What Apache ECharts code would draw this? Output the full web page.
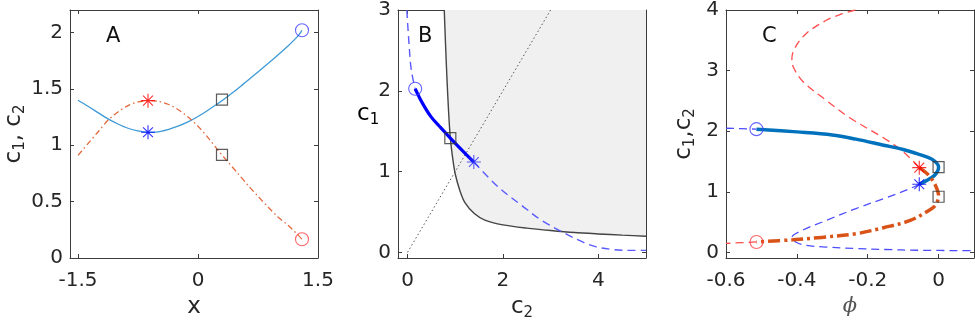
<!DOCTYPE html>
<html>
<head>
<meta charset="utf-8">
<script src="https://cdn.jsdelivr.net/npm/echarts@6/dist/echarts.min.js"></script>
<style>
  html, body { margin: 0; padding: 0; background: #fff; }
  #chart { width: 975px; height: 328px; }
</style>
</head>
<body>
<div id="chart"></div>
<script>
// ---- panel A : c1, c2 against x ----
const aTicksX = [-1.5, 0, 1.5]
const aTicksY = [0, 0.5, 1, 1.5, 2]
const aX = [-1.5, -1.375, -1.25, -1.125, -1.0, -0.875, -0.75, -0.625, -0.5, -0.375, -0.25, -0.125,
  0, 0.125, 0.25, 0.375, 0.5, 0.625, 0.75, 0.875, 1.0, 1.125, 1.25, 1.30]
const aC1 = [1.399, 1.346, 1.290, 1.234, 1.189, 1.151, 1.127, 1.115, 1.118, 1.139, 1.169, 1.207,
  1.255, 1.311, 1.370, 1.435, 1.503, 1.577, 1.651, 1.725, 1.801, 1.880, 1.970, 2.020]
const aC2 = [0.911, 1.015, 1.118, 1.222, 1.296, 1.352, 1.384, 1.396, 1.390, 1.364, 1.317, 1.251,
  1.169, 1.068, 0.956, 0.852, 0.749, 0.645, 0.547, 0.453, 0.364, 0.290, 0.205, 0.166]
const aStarC1 = [[-0.625, 1.115]]
const aStarC2 = [[-0.625, 1.396]]
const aSquares = [[0.3, 1.405], [0.3, 0.914]]
const aCircleC1 = [[1.30, 2.020]]
const aCircleC2 = [[1.30, 0.166]]

// ---- panel B : c1 against c2 ----
const bTicksX = [0, 2, 4]
const bTicksY = [0, 1, 2, 3]
const bDashTop = [[-0.015, 3.0], [0.03, 2.59], [0.078, 2.26], [0.16, 2.025]]
const bSolid = [[0.16, 2.025], [0.3, 1.86], [0.49, 1.68], [0.7, 1.54], [0.897, 1.415], [1.15, 1.26], [1.39, 1.118]]
const bDashLow = [[1.39, 1.118], [1.9, 0.81], [2.385, 0.585], [2.8, 0.40], [3.3, 0.235], [3.7, 0.12],
  [3.94, 0.07], [4.3, 0.035], [4.6, 0.025], [5.0, 0.025]]
const bBoundary = [[0.77, 3.0], [0.795, 2.6], [0.825, 2.17], [0.86, 1.75], [0.897, 1.415], [0.95, 1.15],
  [1.0, 0.97], [1.1, 0.76], [1.2, 0.62], [1.4, 0.48], [1.62, 0.40], [2.0, 0.34], [2.5, 0.30],
  [3.0, 0.27], [3.5, 0.245], [4.0, 0.228], [4.5, 0.213], [5.0, 0.20]]
const bDiagonal = [[0, 0], [3, 3]]
const bCircle = [[0.16, 2.025]]
const bSquare = [[0.897, 1.415]]
const bStar = [[1.39, 1.118]]

// ---- panel C : c1, c2 against phi ----
const cTicksX = [-0.6, -0.4, -0.2, 0]
const cTicksY = [0, 1, 2, 3, 4]
const cBlueDashTop = [[-0.6, 2.05], [-0.514, 2.035]]
const cBlueSolid = [[-0.514, 2.035], [-0.4, 1.99], [-0.3, 1.94], [-0.233, 1.87], [-0.155, 1.77],
  [-0.1, 1.70], [-0.061, 1.63], [-0.03, 1.57], [-0.014, 1.52], [-0.002, 1.45], [0, 1.40],
  [-0.004, 1.33], [-0.012, 1.27], [-0.033, 1.19], [-0.0545, 1.127]]
const cBlueDashLow = [[-0.0545, 1.127], [-0.08, 1.056], [-0.15, 0.90], [-0.233, 0.726], [-0.317, 0.53],
  [-0.383, 0.37], [-0.414, 0.25], [-0.402, 0.17], [-0.374, 0.12], [-0.317, 0.09], [-0.233, 0.066],
  [-0.15, 0.05], [-0.061, 0.038], [0.1, 0.03]]
const cRedDashTop = [[-0.235, 4.0], [-0.28, 3.92], [-0.317, 3.83], [-0.374, 3.61], [-0.405, 3.38],
  [-0.414, 3.2], [-0.41, 3.06], [-0.383, 2.82], [-0.317, 2.51], [-0.25, 2.22], [-0.155, 1.89],
  [-0.099, 1.66], [-0.0545, 1.40]]
const cRedSolid = [[-0.0545, 1.40], [-0.028, 1.275], [-0.009, 1.11], [0, 0.93], [-0.009, 0.78],
  [-0.023, 0.71], [-0.08, 0.53], [-0.155, 0.41], [-0.233, 0.31], [-0.33, 0.25], [-0.412, 0.21], [-0.514, 0.175]]
const cRedDashLow = [[-0.514, 0.175], [-0.6, 0.15]]
const cCircleC1 = [[-0.514, 2.035]]
const cCircleC2 = [[-0.514, 0.175]]
const cStarC1 = [[-0.0545, 1.127]]
const cStarC2 = [[-0.0545, 1.40]]
const cSquares = [[0, 1.41], [0, 0.92]]

const FONT = '"DejaVu Sans", Arial, sans-serif'
const AXIS_COLOR = '#3c3c3c'
const TEXT_COLOR = '#262626'
const STAR = 'path://M0,4L8,4M4,0L4,8M1.2,1.2L6.8,6.8M1.2,6.8L6.8,1.2'

const SUB_RICH = {
  n: { fontSize: 23, fontFamily: FONT, color: TEXT_COLOR },
  s: { fontSize: 15, fontFamily: FONT, color: TEXT_COLOR, padding: [12, 0, 0, 0] },
}

function axis(grid, pos, min, max, ticks, labels, extra) {
  const horizontal = pos === 'bottom' || pos === 'top'
  return Object.assign({
    type: 'value',
    gridIndex: grid,
    position: pos,
    min: min,
    max: max,
    axisLine: { show: true, onZero: false, lineStyle: { color: AXIS_COLOR, width: 1 } },
    axisTick: { show: true, inside: true, length: 4, customValues: ticks, lineStyle: { color: AXIS_COLOR } },
    axisLabel: {
      show: labels, customValues: ticks, color: TEXT_COLOR, fontSize: 20, fontFamily: FONT,
      margin: horizontal ? 13 : 7,
    },
    splitLine: { show: false },
  }, extra || {})
}

function curve(p, data, color, width, type, extra) {
  return Object.assign({
    type: 'line',
    xAxisIndex: p * 2,
    yAxisIndex: p * 2,
    data: data,
    symbol: 'none',
    smooth: 0.35,
    lineStyle: { color: color, width: width, type: type },
    silent: true,
    z: 3,
  }, extra || {})
}

function marks(p, data, symbol, size, color, width) {
  return {
    type: 'scatter',
    xAxisIndex: p * 2,
    yAxisIndex: p * 2,
    data: data,
    symbol: symbol,
    symbolSize: size,
    itemStyle: { color: 'transparent', borderColor: color, borderWidth: width || 1.1 },
    silent: true,
    z: 5,
  }
}

const zip = (xs, ys) => xs.map((x, i) => [x, ys[i]])

const grids = [
  { left: 70, top: 10, width: 248, height: 248 },
  { left: 398, top: 10, width: 248, height: 248 },
  { left: 726, top: 10, width: 248, height: 248 },
].map(g => Object.assign({ outerBoundsMode: 'none', containLabel: false }, g))

const xAxes = [
  axis(0, 'bottom', -1.6, 1.5, aTicksX, true, {
    name: 'x', nameLocation: 'middle', nameGap: 34,
    nameTextStyle: { fontSize: 23, fontFamily: FONT, color: TEXT_COLOR },
  }),
  axis(0, 'top', -1.6, 1.5, aTicksX, false),
  axis(1, 'bottom', -0.2, 5, bTicksX, true, {
    name: '{n|c}{s|2}', nameLocation: 'middle', nameGap: 34,
    nameTextStyle: { rich: SUB_RICH },
  }),
  axis(1, 'top', -0.2, 5, bTicksX, false),
  axis(2, 'bottom', -0.6, 0.1, cTicksX, true, {
    name: '\u03d5', nameLocation: 'middle', nameGap: 36,
    nameTextStyle: { fontSize: 21, fontFamily: '"DejaVu Serif", serif', fontStyle: 'italic', color: '#555' },
  }),
  axis(2, 'top', -0.6, 0.1, cTicksX, false),
]

const yAxes = [
  axis(0, 'left', 0, 2.2, aTicksY, true, {
    name: '{n|c}{s|1}{n|, c}{s|2}', nameLocation: 'middle', nameGap: 42,
    nameTextStyle: { rich: SUB_RICH },
  }),
  axis(0, 'right', 0, 2.2, aTicksY, false),
  axis(1, 'left', -0.07, 3, bTicksY, true),
  axis(1, 'right', -0.07, 3, bTicksY, false),
  axis(2, 'left', -0.09, 4, cTicksY, true, {
    name: '{n|c}{s|1}{n|,c}{s|2}', nameLocation: 'middle', nameGap: 28,
    nameTextStyle: { rich: SUB_RICH },
  }),
  axis(2, 'right', -0.09, 4, cTicksY, false),
]

const series = [
  // A
  curve(0, zip(aX, aC1), '#3d9ad6', 1.3, 'solid', { smooth: 0.3 }),
  curve(0, zip(aX, aC2), '#e2693d', 1.3, [6, 3, 1.5, 3], { smooth: 0.3 }),
  marks(0, aStarC1, STAR, 14, '#0000ff', 1.1),
  marks(0, aStarC2, STAR, 14, '#ff0000', 1.1),
  marks(0, aSquares, 'rect', 11, '#333', 1.2),
  marks(0, aCircleC1, 'circle', 13, '#4040ff', 1.1),
  marks(0, aCircleC2, 'circle', 13, '#ff4040', 1.1),
  // B
  curve(1, bBoundary, '#444', 1.4, 'solid', {
    areaStyle: { color: '#f0f0f0', opacity: 1, origin: 'end' }, z: 1, smooth: 0.25,
  }),
  curve(1, bDiagonal, '#555', 1, [1.5, 2.5], { smooth: false, z: 2 }),
  curve(1, bDashTop, '#5a5aff', 1.4, [8, 5]),
  curve(1, bDashLow, '#5a5aff', 1.4, [8, 5]),
  curve(1, bSolid, '#0000ff', 3.2, 'solid'),
  marks(1, bCircle, 'circle', 13, '#4040ff', 1.1),
  marks(1, bSquare, 'rect', 11, '#333', 1.2),
  marks(1, bStar, STAR, 14, '#3030ff', 1.1),
  // C
  curve(2, cRedDashTop, '#ff4d4d', 1.3, [8, 5]),
  curve(2, cRedDashLow, '#ff4d4d', 1.3, [8, 5]),
  curve(2, cBlueDashTop, '#4d4dff', 1.3, [8, 5]),
  curve(2, cBlueDashLow, '#4d4dff', 1.3, [8, 5]),
  curve(2, cBlueSolid, '#0072bd', 3.5, 'solid', { z: 4 }),
  curve(2, cRedSolid, '#d95319', 3.5, [12, 4, 3, 4], { z: 4 }),
  marks(2, cCircleC1, 'circle', 13, '#4040ff', 1.1),
  marks(2, cCircleC2, 'circle', 13, '#ff4040', 1.1),
  marks(2, cStarC2, STAR, 14, '#ff0000', 1.1),
  marks(2, cStarC1, STAR, 14, '#0000ff', 1.1),
  marks(2, cSquares, 'rect', 11, '#333', 1.2),
]

const panelLabel = (text, left) => ({
  type: 'text', left: left, top: 26,
  style: { text: text, fontSize: 21, fontFamily: FONT, fill: '#111' },
})

const chart = echarts.init(document.getElementById('chart'), null, { renderer: 'canvas' })
chart.setOption({
  animation: false,
  backgroundColor: '#fff',
  grid: grids,
  xAxis: xAxes,
  yAxis: yAxes,
  series: series,
  graphic: [
    panelLabel('A', 106),
    panelLabel('B', 418),
    panelLabel('C', 762),
    {
      type: 'text', left: 357, top: 103,
      style: { text: '{n|c}{s|1}', rich: SUB_RICH },
    },
  ],
})
</script>
</body>
</html>
